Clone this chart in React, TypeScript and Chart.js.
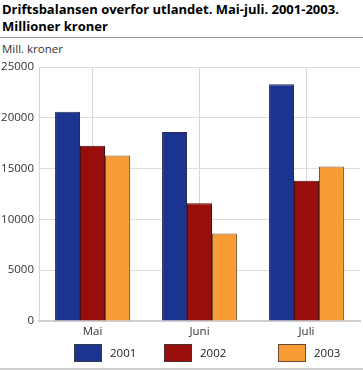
import React, { useEffect, useRef } from "react";
import { Chart, registerables } from "chart.js";

Chart.register(...registerables);

const categories = ["Mai", "Juni", "Juli"];
const seriesLabels = ["2001", "2002", "2003"];
const values2001 = [20600, 18600, 23300];
const values2002 = [17250, 11600, 13800];
const values2003 = [16300, 8600, 15200];
const yTicks = [0, 5000, 10000, 15000, 20000, 25000];

const colors = ["#1a3490", "#970e0a", "#f89b34"];
const borders = ["#2b2b55", "#4a0a08", "#7a5530"];
const legendBoxX = [74, 164, 278];
const FONT = "'Open Sans', 'DejaVu Sans', sans-serif";

const legendPlugin = {
  id: "customLegend",
  afterDraw(chart: any) {
    const ctx = chart.ctx;
    ctx.save();
    chart.data.datasets.forEach((ds: any, i: number) => {
      const x = legendBoxX[i];
      const y = 344;
      ctx.fillStyle = ds.backgroundColor;
      ctx.fillRect(x, y, 28, 18);
      ctx.strokeStyle = "rgba(60,60,60,0.8)";
      ctx.lineWidth = 1;
      ctx.strokeRect(x + 0.5, y + 0.5, 27, 17);
      ctx.fillStyle = "#222";
      ctx.font = "11.5px " + FONT;
      ctx.textBaseline = "middle";
      ctx.textAlign = "left";
      ctx.fillText(ds.label, x + 36, y + 10);
    });
    ctx.restore();
  },
};

export default function App() {
  const ref = useRef<HTMLCanvasElement>(null);
  useEffect(() => {
    document.body.style.margin = "0";
    const dataArrays = [values2001, values2002, values2003];
    const chart = new Chart(ref.current!, {
      type: "bar",
      data: {
        labels: categories,
        datasets: seriesLabels.map((l, i) => ({
          label: l,
          data: dataArrays[i],
          backgroundColor: colors[i],
          borderColor: borders[i],
          borderWidth: 1,
          categoryPercentage: 0.7,
          barPercentage: 1,
        })),
      },
      options: {
        animation: false,
        responsive: false,
        maintainAspectRatio: false,
        layout: { padding: { top: 67, right: 3, left: 0, bottom: 30 } },
        plugins: {
          legend: { display: false },
          tooltip: { enabled: false },
        },
        scales: {
          x: {
            grid: { offset: false, color: "#d6d6d6", drawTicks: false },
            border: { color: "#d0d0d0", width: 2 },
            ticks: { color: "#333", font: { family: FONT, size: 11.5 }, padding: 4 },
            afterFit: (s: any) => { s.height = 20; },
          },
          y: {
            min: 0,
            max: 25000,
            afterBuildTicks: (s: any) => { s.ticks = yTicks.map((v) => ({ value: v })); },
            grid: { color: "#dedede", drawTicks: false },
            border: { color: "#d6d6d6" },
            ticks: {
              color: "#333",
              font: { family: FONT, size: 11.5 },
              padding: 5,
              callback: (v: any) => String(v),
            },
            afterFit: (s: any) => { s.width = 39; },
          },
        },
      },
      plugins: [legendPlugin],
    });
    return () => chart.destroy();
  }, []);

  return (
    <div style={{ position: "relative", width: 363, height: 371, fontFamily: FONT }}>
      <div style={{ position: "absolute", left: 2, top: 1, fontWeight: "bold", fontSize: 13, lineHeight: "17px", color: "#000" }}>
        Driftsbalansen overfor utlandet. Mai-juli. 2001-2003.
        <br />
        Millioner kroner
      </div>
      <div style={{ position: "absolute", left: 0, top: 37, width: 363, height: 1, background: "#9a9a9a" }} />
      <div style={{ position: "absolute", left: 2, top: 41, fontSize: 11.5, color: "#333" }}>Mill. kroner</div>
      <canvas ref={ref} width={363} height={371} style={{ position: "absolute", left: 0, top: 0 }} />
      <div style={{ position: "absolute", left: 0, top: 368, width: 363, height: 2, background: "#cfcfcf" }} />
    </div>
  );
}
